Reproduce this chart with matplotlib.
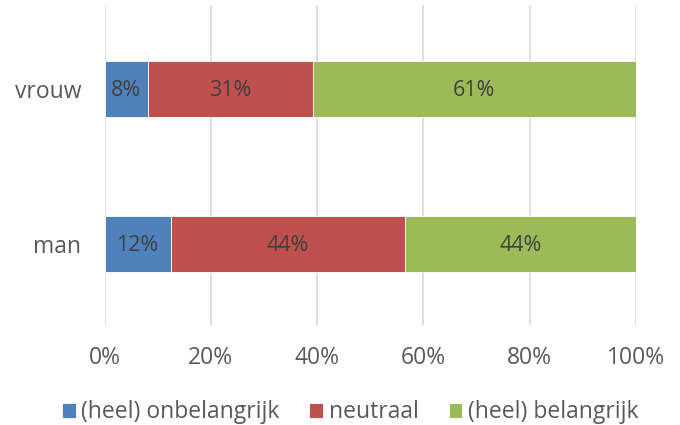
import matplotlib.pyplot as plt
import numpy as np

plt.rcParams['font.family'] = ['Open Sans', 'DejaVu Sans']

groups = ['man', 'vrouw']
series = ['(heel) onbelangrijk', 'neutraal', '(heel) belangrijk']
values = {
    '(heel) onbelangrijk': [12.4, 8.1],
    'neutraal': [44.1, 31.1],
    '(heel) belangrijk': [43.5, 60.8],
}
labels = {
    '(heel) onbelangrijk': ['12%', '8%'],
    'neutraal': ['44%', '31%'],
    '(heel) belangrijk': ['44%', '61%'],
}
colors = ['#4F81BD', '#C0504D', '#9BBB59']

fig = plt.figure(figsize=(6.8, 4.25), dpi=100)
ax = fig.add_axes([0.154, 0.235, 0.781, 0.753])

y = np.arange(len(groups))
left = np.zeros(len(groups))
for name, col in zip(series, colors):
    vals = np.array(values[name])
    ax.barh(y, vals, left=left, height=0.36, color=col, label=name,
            edgecolor='white', linewidth=0.6, zorder=3)
    for yi, l, v, t in zip(y, left, vals, labels[name]):
        ax.text(l + v / 2, yi - 0.01, t, ha='center', va='center',
                fontsize=15.5, color='#404040', zorder=4)
    left += vals

ax.set_xlim(0, 100)
ax.set_ylim(-0.523, 1.542)
ax.set_xticks(np.arange(0, 101, 20))
ax.set_xticklabels([f'{v}%' for v in range(0, 101, 20)])
ax.set_yticks(y)
ax.set_yticklabels(groups)
ax.tick_params(axis='both', length=0, labelsize=16.5, labelcolor='#595959')
ax.tick_params(axis='x', pad=15)
ax.tick_params(axis='y', pad=17)
ax.grid(axis='x', color='#D9D9D9', linewidth=1.2, zorder=0)
for s in ax.spines.values():
    s.set_visible(False)

fig.legend(loc='lower center', bbox_to_anchor=(0.515, -0.047), ncol=3,
           frameon=False, fontsize=16.5, labelcolor='#595959',
           handlelength=0.6, handleheight=0.6, handletextpad=0.25,
           columnspacing=1.3)

fig.savefig('out.png', dpi=100)
